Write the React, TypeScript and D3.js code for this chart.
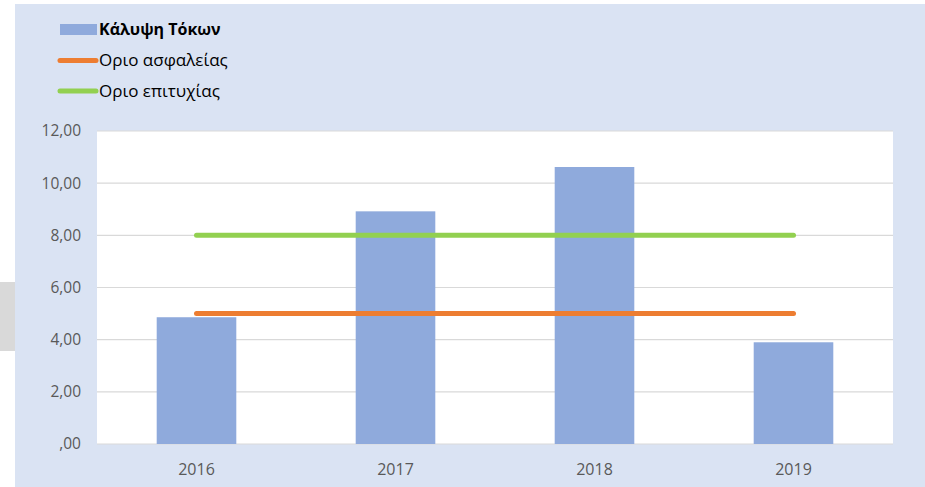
import * as d3 from 'd3'
import { useEffect, useRef } from 'react'

const years = ['2016', '2017', '2018', '2019']
const coverage = [4.86, 8.92, 10.62, 3.9]
const safetyLimit = [5, 5, 5, 5]
const successLimit = [8, 8, 8, 8]
const yTicks = [0, 2, 4, 6, 8, 10, 12]

const FONT = "'Open Sans', 'Noto Sans', sans-serif"

export default function App() {
  const svgRef = useRef<SVGSVGElement>(null)

  useEffect(() => {
    if (!svgRef.current) return
    d3.select(svgRef.current).selectAll('*').remove()

    const width = 925
    const height = 487
    const svg = d3.select(svgRef.current).attr('width', width).attr('height', height)

    // Backgrounds
    svg.append('rect').attr('x', 0).attr('y', 282).attr('width', 15).attr('height', 69).attr('fill', '#d9d9d9')
    svg.append('rect').attr('x', 15).attr('y', 4).attr('width', 910).attr('height', 483).attr('fill', '#dae3f3')

    const plot = { left: 97, right: 893, top: 131, bottom: 444 }
    svg.append('rect')
      .attr('x', plot.left).attr('y', plot.top)
      .attr('width', plot.right - plot.left).attr('height', plot.bottom - plot.top)
      .attr('fill', '#ffffff')

    const x = d3.scaleBand().domain(years).range([plot.left, plot.right]).paddingInner(0.6).paddingOuter(0.3)
    const xc = d3.scaleBand().domain(years).range([plot.left, plot.right])
    const y = d3.scaleLinear().domain([0, 12]).range([plot.bottom, plot.top])

    // Gridlines
    svg.append('g').selectAll('line').data(yTicks).enter().append('line')
      .attr('x1', plot.left).attr('x2', plot.right)
      .attr('y1', d => y(d)).attr('y2', d => y(d))
      .attr('stroke', '#d9d9d9').attr('stroke-width', 1.2)

    // Y labels
    svg.append('g').selectAll('text').data(yTicks).enter().append('text')
      .attr('x', 81).attr('y', d => y(d)).attr('dy', '0.35em')
      .attr('text-anchor', 'end')
      .style('font-family', FONT).style('font-size', '15.5px').attr('fill', '#595959')
      .text(d => (d === 0 ? ',00' : d3.format('.2f')(d).replace('.', ',')))

    // Bars
    svg.append('g').selectAll('rect').data(coverage).enter().append('rect')
      .attr('x', (d, i) => x(years[i])!)
      .attr('width', x.bandwidth())
      .attr('y', d => y(d))
      .attr('height', d => plot.bottom - y(d))
      .attr('fill', '#8faadc')

    // Lines
    const line = d3.line<number>()
      .x((d, i) => xc(years[i])! + xc.bandwidth() / 2)
      .y(d => y(d))
    const series = [
      { values: safetyLimit, color: '#ed7d31' },
      { values: successLimit, color: '#92d050' },
    ]
    series.forEach(s => {
      svg.append('path').datum(s.values)
        .attr('d', line)
        .attr('fill', 'none').attr('stroke', s.color)
        .attr('stroke-width', 5).attr('stroke-linecap', 'round')
    })

    // X labels
    svg.append('g').selectAll('text').data(years).enter().append('text')
      .attr('x', d => xc(d)! + xc.bandwidth() / 2).attr('y', 469).attr('dy', '0.35em')
      .attr('text-anchor', 'middle')
      .style('font-family', FONT).style('font-size', '16px').attr('fill', '#595959')
      .text(d => d)

    // Legend
    const legend = svg.append('g')
    legend.append('rect').attr('x', 60).attr('y', 24).attr('width', 37).attr('height', 11).attr('fill', '#8faadc')
    legend.append('text').attr('x', 99).attr('y', 29.5).attr('dy', '0.35em')
      .style('font-family', FONT).style('font-size', '16px').style('font-weight', 'bold').attr('fill', '#000')
      .text('Κάλυψη Τόκων')
    const legendLines = [
      { label: 'Οριο ασφαλείας', color: '#ed7d31', y: 60.5 },
      { label: 'Οριο επιτυχίας', color: '#92d050', y: 91 },
    ]
    legendLines.forEach(l => {
      legend.append('line').attr('x1', 60).attr('x2', 96).attr('y1', l.y).attr('y2', l.y)
        .attr('stroke', l.color).attr('stroke-width', 5).attr('stroke-linecap', 'round')
      legend.append('text').attr('x', 99).attr('y', l.y).attr('dy', '0.35em')
        .style('font-family', FONT).style('font-size', '17px').attr('fill', '#000')
        .text(l.label)
    })
  }, [])

  return (
    <div style={{ position: 'absolute', left: 0, top: 0 }}>
      <svg ref={svgRef} style={{ display: 'block' }}></svg>
    </div>
  )
}
